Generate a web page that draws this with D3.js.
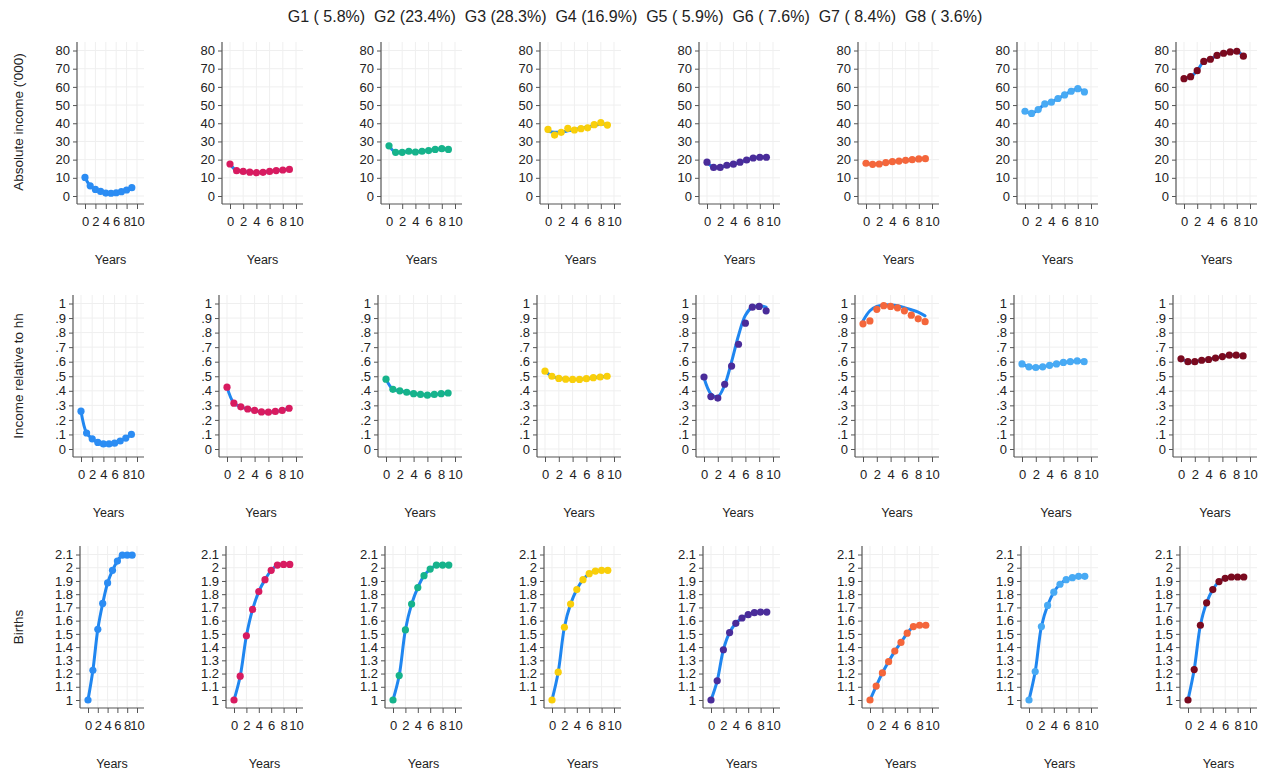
<!DOCTYPE html>
<html>
<head>
<meta charset="utf-8">
<script src="https://cdn.jsdelivr.net/npm/d3@7"></script>
<style>
  body { margin: 0; background: #fff; }
  svg { display: block; font-family: "Liberation Sans", Arial, sans-serif; }
  .tick text { fill: #222; }
</style>
</head>
<body>
<div id="chart"></div>
<script>
// Groups, shares and marker colours
var groups = ['G1', 'G2', 'G3', 'G4', 'G5', 'G6', 'G7', 'G8'];
var shares = ['( 5.8%)', '(23.4%)', '(28.3%)', '(16.9%)', '( 5.9%)', '( 7.6%)', '( 8.4%)', '( 3.6%)'];
var colors = ['#2b8cf3', '#d81b60', '#16b38b', '#f9cf0a', '#4a2c9a', '#f4663b', '#48aaf4', '#7a0a1f'];
var years = [0, 1, 2, 3, 4, 5, 6, 7, 8, 9];

// Absolute income ('000), one array per group
var absIncome = [
  [10.2, 5.6, 3.6, 2.5, 1.6, 1.5, 1.8, 2.4, 3.3, 4.6],
  [17.6, 13.9, 13.5, 13.1, 12.8, 13.0, 13.5, 14.0, 14.3, 14.6],
  [27.6, 24.0, 24.0, 24.6, 24.2, 24.6, 25.0, 25.6, 26.0, 25.6],
  [36.6, 33.5, 35.0, 37.2, 36.3, 37.0, 37.5, 39.2, 40.3, 39.0],
  [18.6, 15.7, 15.7, 16.9, 17.5, 18.6, 19.8, 20.9, 21.3, 21.3],
  [18.0, 17.4, 17.6, 18.4, 18.9, 19.2, 19.6, 20.0, 20.4, 20.5],
  [46.6, 45.4, 47.5, 50.6, 51.6, 53.6, 55.6, 57.6, 59.0, 57.2],
  [64.5, 65.6, 68.9, 74.0, 75.2, 77.3, 78.5, 79.2, 79.6, 76.9]
];

// Income relative to household
var relIncome = [
  [0.26, 0.11, 0.07, 0.045, 0.035, 0.035, 0.04, 0.055, 0.075, 0.10],
  [0.425, 0.315, 0.29, 0.275, 0.265, 0.255, 0.253, 0.258, 0.265, 0.28],
  [0.48, 0.41, 0.40, 0.39, 0.38, 0.375, 0.37, 0.375, 0.38, 0.385],
  [0.535, 0.50, 0.485, 0.48, 0.478, 0.478, 0.483, 0.49, 0.495, 0.50],
  [0.495, 0.36, 0.35, 0.445, 0.57, 0.72, 0.865, 0.975, 0.98, 0.95],
  [0.86, 0.88, 0.96, 0.985, 0.98, 0.97, 0.95, 0.92, 0.895, 0.875],
  [0.585, 0.565, 0.56, 0.565, 0.575, 0.585, 0.595, 0.60, 0.605, 0.60],
  [0.62, 0.60, 0.60, 0.61, 0.615, 0.625, 0.635, 0.645, 0.645, 0.64]
];

// Births
var births = [
  [1.0, 1.225, 1.535, 1.73, 1.885, 1.98, 2.05, 2.095, 2.095, 2.095],
  [1.0, 1.18, 1.485, 1.685, 1.82, 1.91, 1.98, 2.02, 2.025, 2.025],
  [1.0, 1.185, 1.53, 1.725, 1.85, 1.94, 1.99, 2.02, 2.02, 2.02],
  [1.0, 1.21, 1.55, 1.725, 1.835, 1.91, 1.955, 1.975, 1.98, 1.98],
  [1.0, 1.145, 1.38, 1.51, 1.58, 1.62, 1.645, 1.66, 1.665, 1.665],
  [1.0, 1.105, 1.205, 1.29, 1.37, 1.435, 1.505, 1.555, 1.565, 1.565],
  [1.0, 1.215, 1.555, 1.715, 1.815, 1.875, 1.91, 1.925, 1.935, 1.935],
  [1.0, 1.23, 1.565, 1.735, 1.835, 1.895, 1.92, 1.93, 1.93, 1.93]
];

// Fitted lines that do not follow the points
var fitAbsG4 = [35.6, 35.0, 35.2, 35.8, 36.5, 37.2, 38.0, 38.8, 39.5, 39.6];
var fitRelG5 = [0.49, 0.38, 0.36, 0.44, 0.60, 0.78, 0.92, 0.975, 0.985, 0.975];
var fitRelG6 = [0.88, 0.95, 0.98, 0.99, 0.99, 0.985, 0.972, 0.957, 0.94, 0.915];

// Axis ticks
var xTicks = [0, 2, 4, 6, 8, 10];
var absTicks = [0, 10, 20, 30, 40, 50, 60, 70, 80];
var relTicks = [0, 0.1, 0.2, 0.3, 0.4, 0.5, 0.6, 0.7, 0.8, 0.9, 1];
var birthTicks = [1, 1.1, 1.2, 1.3, 1.4, 1.5, 1.6, 1.7, 1.8, 1.9, 2, 2.1];

var width = 1266, height = 776;
var colStep = 159, firstRight = 144;
var lineColor = '#1f86f0';

var rows = [
  { data: absIncome, ticks: absTicks, domain: [0, 80], title: "Absolute income ('000)",
    top: 42, bottom: 204, left: 63, left0: 77, titleY: 122, fits: { 3: fitAbsG4 } },
  { data: relIncome, ticks: relTicks, domain: [0, 1], title: 'Income relative to hh',
    top: 295, bottom: 457, left: 60, left0: 73, titleY: 376, fits: { 4: fitRelG5, 5: fitRelG6 } },
  { data: births, ticks: birthTicks, domain: [1, 2.1], title: 'Births',
    top: 546, bottom: 708, left: 67, left0: 80, titleY: 627, fits: {} }
];

// Stata style labels: .1 instead of 0.1
function fmtTick(v) {
  var s = d3.format('')(+v.toFixed(2));
  return s.replace(/^0\./, '.');
}

var svg = d3.select('#chart').append('svg')
  .attr('width', width)
  .attr('height', height);

// Title line
svg.append('text')
  .attr('x', 635)
  .attr('y', 22)
  .attr('text-anchor', 'middle')
  .style('font-size', '16px')
  .style('white-space', 'pre')
  .attr('fill', '#222')
  .text(groups.map(function(g, i) { return g + ' ' + shares[i]; }).join('  '));

rows.forEach(function(row, r) {

  // Row title on the left
  svg.append('text')
    .attr('transform', 'translate(18,' + row.titleY + ')rotate(-90)')
    .attr('text-anchor', 'middle')
    .attr('dominant-baseline', 'central')
    .style('font-size', '13.5px')
    .attr('fill', '#222')
    .text(row.title);

  groups.forEach(function(g, c) {
    var left = c === 0 ? row.left0 : row.left + colStep * c;
    var right = firstRight + colStep * c;

    var x = d3.scaleLinear().domain([0, 10]).range([left + 8, right - 7]);
    var y = d3.scaleLinear().domain(row.domain).range([row.bottom - 8, row.top + 8.5]);

    var panel = svg.append('g');

    // Grid
    panel.append('g').selectAll('line.h')
      .data(row.ticks)
      .enter().append('line')
      .attr('x1', left).attr('x2', right)
      .attr('y1', function(d) { return y(d); })
      .attr('y2', function(d) { return y(d); })
      .attr('stroke', '#efefef');

    panel.append('g').selectAll('line.v')
      .data(xTicks)
      .enter().append('line')
      .attr('y1', row.top).attr('y2', row.bottom)
      .attr('x1', function(d) { return x(d); })
      .attr('x2', function(d) { return x(d); })
      .attr('stroke', '#efefef');

    // Axes
    var yAxis = panel.append('g')
      .attr('transform', 'translate(' + left + ',0)')
      .call(d3.axisLeft(y).tickValues(row.ticks).tickFormat(fmtTick).tickSize(4).tickSizeOuter(0).tickPadding(3));
    yAxis.select('.domain').remove();
    yAxis.selectAll('.tick line').attr('stroke', '#555');
    yAxis.selectAll('.tick text').style('font-size', '13px');

    var xAxis = panel.append('g')
      .attr('transform', 'translate(0,' + row.bottom + ')')
      .call(d3.axisBottom(x).tickValues(xTicks).tickSize(5).tickSizeOuter(0).tickPadding(8));
    xAxis.select('.domain').remove();
    xAxis.selectAll('.tick line').attr('stroke', '#555');
    xAxis.selectAll('.tick text').style('font-size', '13px');

    panel.append('line')
      .attr('x1', left).attr('x2', left)
      .attr('y1', row.top).attr('y2', row.bottom)
      .attr('stroke', '#555').attr('stroke-width', 1.2);
    panel.append('line')
      .attr('x1', left).attr('x2', right)
      .attr('y1', row.bottom).attr('y2', row.bottom)
      .attr('stroke', '#555').attr('stroke-width', 1.2);

    panel.append('text')
      .attr('x', (left + right) / 2)
      .attr('y', row.bottom + 60)
      .attr('text-anchor', 'middle')
      .style('font-size', '12.5px')
      .attr('fill', '#222')
      .text('Years');

    // Fitted line
    var fit = row.fits[c] || row.data[c];
    var line = d3.line()
      .x(function(d, i) { return x(years[i]); })
      .y(function(d) { return y(d); })
      .curve(d3.curveCatmullRom);

    panel.append('path')
      .datum(fit)
      .attr('d', line)
      .attr('fill', 'none')
      .attr('stroke', lineColor)
      .attr('stroke-width', 3)
      .attr('stroke-linecap', 'round');

    // Points
    panel.append('g').selectAll('circle')
      .data(row.data[c])
      .enter().append('circle')
      .attr('cx', function(d, i) { return x(years[i]); })
      .attr('cy', function(d) { return y(d); })
      .attr('r', 3.6)
      .attr('fill', colors[c]);
  });
});
</script>
</body>
</html>
